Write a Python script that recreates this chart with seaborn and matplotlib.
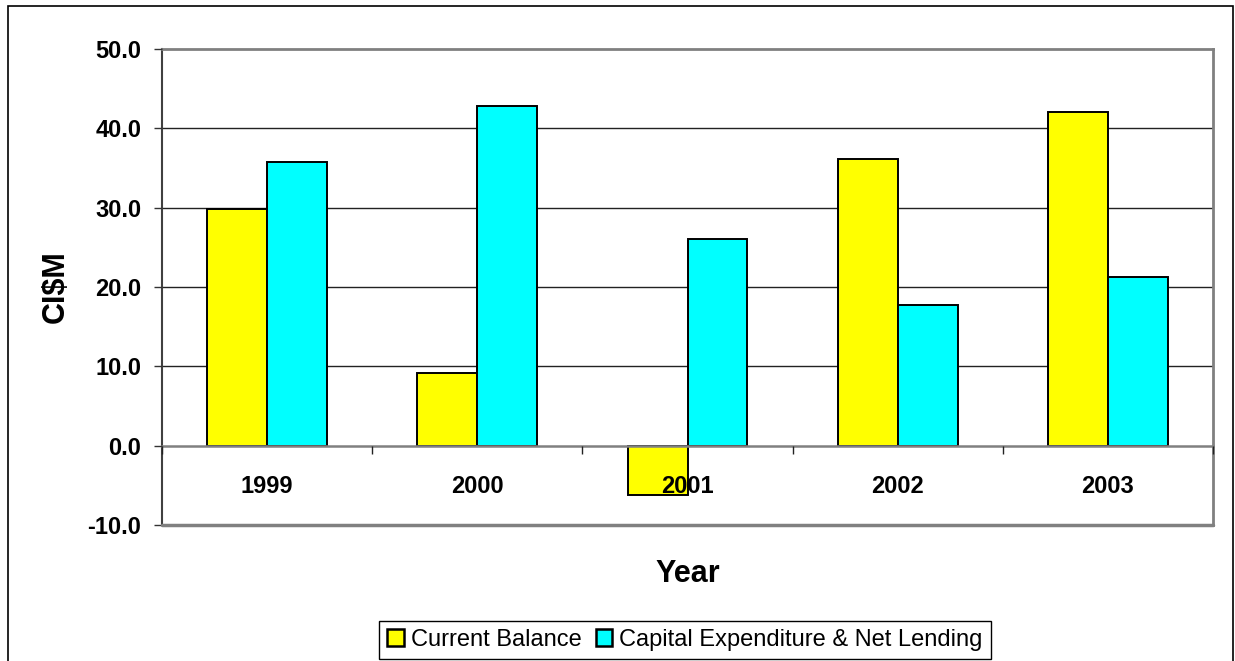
import matplotlib
matplotlib.use("Agg")
import matplotlib.pyplot as plt
from matplotlib.patches import Patch, Rectangle
import seaborn as sns
import pandas as pd

years = ["1999", "2000", "2001", "2002", "2003"]
current_balance = [29.8, 9.2, -6.2, 36.1, 42.1]
capital_expenditure = [35.7, 42.8, 26.0, 17.7, 21.2]
series_names = ["Current Balance", "Capital Expenditure & Net Lending"]
colors = ["#FFFF00", "#00FFFF"]
y_ticks = [-10, 0, 10, 20, 30, 40, 50]

df = pd.DataFrame({
    "Year": years * 2,
    "Value": current_balance + capital_expenditure,
    "Series": [series_names[0]] * len(years) + [series_names[1]] * len(years),
})

sns.set_style("white")
plt.rcParams["font.family"] = ["Liberation Sans", "DejaVu Sans"]
plt.rcParams["text.color"] = "black"
plt.rcParams["axes.labelcolor"] = "black"
plt.rcParams["xtick.labelcolor"] = "black"
plt.rcParams["ytick.labelcolor"] = "black"

fig = plt.figure(figsize=(12.35, 6.61), dpi=100)
ax = fig.add_axes([162 / 1235, 1 - 525 / 661, (1213 - 162) / 1235, (525 - 49) / 661])

sns.barplot(data=df, x="Year", y="Value", hue="Series", order=years,
            hue_order=series_names, palette=colors, width=0.57,
            edgecolor="black", linewidth=1.4, saturation=1, ax=ax,
            legend=False, zorder=2)

ax.set_xlim(-0.5, len(years) - 0.5)
ax.set_ylim(y_ticks[0], y_ticks[-1])
ax.set_yticks(y_ticks)
ax.set_yticklabels([f"{v:.1f}" for v in y_ticks], fontsize=17, fontweight="bold")
ax.tick_params(axis="y", direction="out", length=6, width=1, color="#333333",
               pad=9, left=True)

# category axis crosses the value axis at zero
ax.spines["bottom"].set_position(("data", 0))
ax.spines["bottom"].set_color("#808080")
ax.spines["bottom"].set_linewidth(1.8)
ax.set_xticks(range(len(years)))
ax.set_xticklabels(years, fontsize=17, fontweight="bold")
ax.tick_params(axis="x", which="major", length=0, pad=21, bottom=True)
ax.set_xticks([i - 0.5 for i in range(len(years) + 1)], minor=True)
ax.tick_params(axis="x", which="minor", direction="out", length=6, width=1,
               color="#222222", bottom=True)

for side in ["top", "right"]:
    ax.spines[side].set_color("#808080")
    ax.spines[side].set_linewidth(2)
ax.spines["left"].set_color("#404040")
ax.spines["left"].set_linewidth(1.5)
ax.axhline(y_ticks[0], color="#808080", lw=2.5, clip_on=False, zorder=5)

# horizontal gridlines behind the bars; axis labels stay on top
ax.grid(False)
for v in y_ticks[2:-1]:
    ax.axhline(v, color="#222222", lw=1, zorder=1)
ax.set_axisbelow(False)

ax.set_xlabel("Year", fontsize=22, fontweight="bold")
ax.set_ylabel("CI$M", fontsize=22, fontweight="bold")
ax.xaxis.set_label_coords(0.5, (525 - 574) / 476)
ax.xaxis.label.set_va("center")
ax.yaxis.set_label_coords((56 - 162) / 1051, 0.5)
ax.yaxis.label.set_va("center")

handles = [Patch(facecolor=c, edgecolor="black", linewidth=1.8) for c in colors]
fig.legend(handles, series_names, loc="center", ncol=2,
           bbox_to_anchor=(685 / 1235, 1 - 640 / 661), fontsize=17,
           frameon=True, fancybox=False, edgecolor="black", framealpha=1,
           handlelength=0.7, handleheight=0.7, handletextpad=0.3,
           columnspacing=0.6, borderpad=0.35, borderaxespad=0)
leg = fig.legends[0]
leg.get_frame().set_linewidth(1)

# outer chart border
fig.patches.append(Rectangle((8 / 1235, -0.02), (1233 - 8) / 1235, (661 - 6) / 661 + 0.02,
                             transform=fig.transFigure, fill=False,
                             edgecolor="black", lw=1.2))

fig.savefig("out.png", dpi=100)
